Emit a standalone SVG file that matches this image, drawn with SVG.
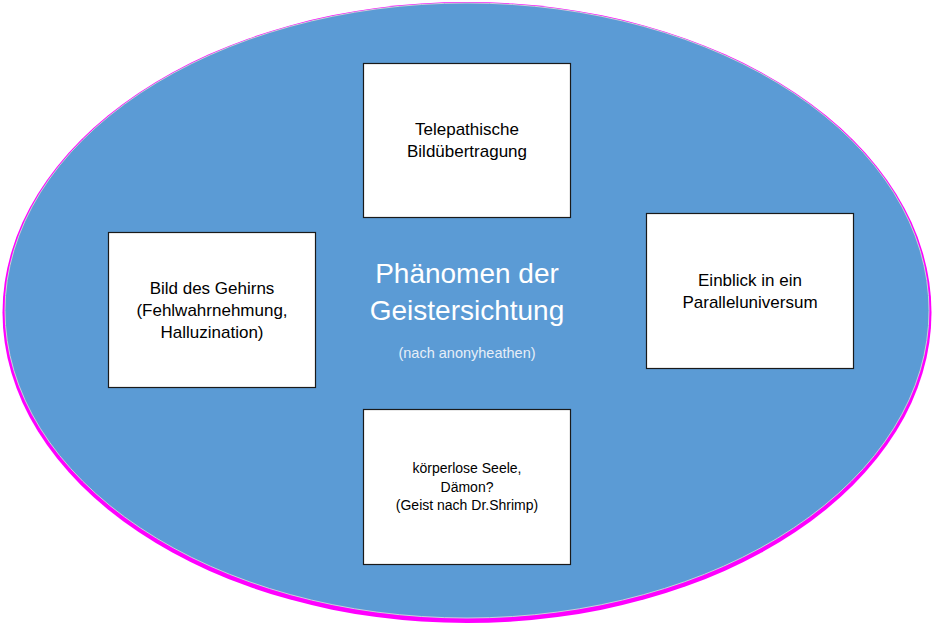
<svg xmlns="http://www.w3.org/2000/svg" width="936" height="627" viewBox="0 0 936 627">
<style>
.box{fill:#ffffff;stroke:#1a1a1a;stroke-width:1.2}
.bt{font-family:"Liberation Sans",Arial,sans-serif;font-size:17px;fill:#000;text-anchor:middle}
.st{font-family:"Liberation Sans",Arial,sans-serif;font-size:14px;fill:#000;text-anchor:middle}
.ct{font-family:"Liberation Sans",Arial,sans-serif;font-size:28px;fill:#ffffff;text-anchor:middle}
.sub{font-family:"Liberation Sans",Arial,sans-serif;font-size:14.5px;fill:#e6eef8;text-anchor:middle}
</style>
<rect width="936" height="627" fill="#ffffff"/>
<g id="background">
<ellipse cx="467" cy="312.5" rx="464.5" ry="310.5" fill="#ff00ff"/>
<ellipse cx="467" cy="310.5" rx="462" ry="307.5" fill="#5b9bd5" stroke="#c8d0d8" stroke-width="1"/>
</g>
<g id="center">
<text class="ct" x="467" y="283">Phänomen der</text>
<text class="ct" x="467" y="320">Geistersichtung</text>
<text class="sub" x="467" y="358">(nach anonyheathen)</text>
</g>
<g id="connectors"></g>
<g id="node-top">
<rect class="box" x="363.5" y="63.5" width="207" height="154"/>
<text class="bt" x="467" y="135">Telepathische</text>
<text class="bt" x="467" y="157">Bildübertragung</text>
</g>
<g id="node-left">
<rect class="box" x="108.5" y="232.5" width="207" height="155"/>
<text class="bt" x="212" y="294">Bild des Gehirns</text>
<text class="bt" x="212" y="316">(Fehlwahrnehmung,</text>
<text class="bt" x="212" y="338">Halluzination)</text>
</g>
<g id="node-right">
<rect class="box" x="646.5" y="213.5" width="207" height="155"/>
<text class="bt" x="750" y="286">Einblick in ein</text>
<text class="bt" x="750" y="308">Paralleluniversum</text>
</g>
<g id="node-bottom">
<rect class="box" x="363.5" y="409.5" width="207" height="155"/>
<text class="st" x="467" y="473">körperlose Seele,</text>
<text class="st" x="467" y="491.5">Dämon?</text>
<text class="st" x="467" y="510">(Geist nach Dr.Shrimp)</text>
</g>
</svg>
